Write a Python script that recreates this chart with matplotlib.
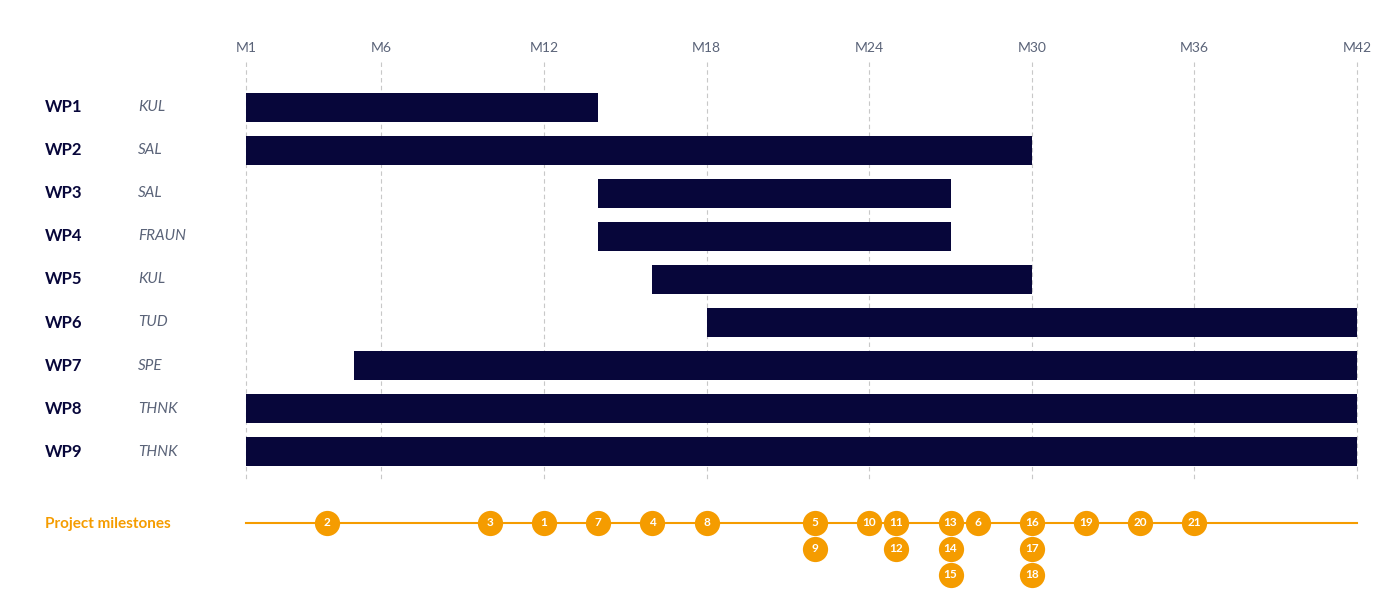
import matplotlib
matplotlib.use("Agg")
import matplotlib.pyplot as plt

wps = ["WP1","WP2","WP3","WP4","WP5","WP6","WP7","WP8","WP9"]
partners = ["KUL","SAL","SAL","FRAUN","KUL","TUD","SPE","THNK","THNK"]
starts = [1,1,14,14,16,18,5,1,1]
ends = [14,30,27,27,30,42,42,42,42]
tick_months = [1,6,12,18,24,30,36,42]
ms_ids = [2,3,1,7,4,8,5,9,10,11,12,13,14,15,6,16,17,18,19,20,21]
ms_months = [4,10,12,14,16,18,22,22,24,25,25,27,27,27,28,30,30,30,32,34,36]

NAVY = "#07063a"; ORANGE = "#f59c00"; GRAY = "#5a6378"
plt.rcParams['font.family'] = ['Lato', 'DejaVu Sans']
fig = plt.figure(figsize=(13.92, 6.05), dpi=100)
ax = fig.add_axes([0, 0, 1, 1])
ppm = (1357 - 246) / 41.0
ax.set_xlim(1 - 246 / ppm, 42 + (1392 - 1357) / ppm)
ax.set_ylim(605, 0)
ax.axis('off')

for m in tick_months:
    ax.plot([m, m], [62, 482], color="#c8c8c8", lw=0.8, ls=(0, (4, 3)), zorder=0)
    ax.text(m, 48, f"M{m}", ha='center', va='center', fontsize=10, color=GRAY)

for i, (w, p, s, e) in enumerate(zip(wps, partners, starts, ends)):
    y = 107 + i * 43.1
    ax.barh(y, e - s, left=s, height=29, color=NAVY, zorder=2)
    ax.text(45 / 1392 * 0 + (1 - 246 / ppm) + 45 / ppm, y, w, ha='left', va='center',
            fontsize=12, fontweight='bold', color=NAVY)
    ax.text((1 - 246 / ppm) + 138 / ppm, y, p, ha='left', va='center',
            fontsize=11, style='italic', color=GRAY)

ax.text((1 - 246 / ppm) + 45 / ppm, 524, "Project milestones", ha='left', va='center',
        fontsize=11, fontweight='bold', color=ORANGE)
ax.plot([1, 42], [523, 523], color=ORANGE, lw=1.5, zorder=1)
count = {}
for mid, m in zip(ms_ids, ms_months):
    k = count.get(m, 0); count[m] = k + 1
    y = 523 + k * 26
    ax.scatter([m], [y], s=330, color=ORANGE, zorder=3, linewidths=0)
    ax.text(m, y, str(mid), ha='center', va='center', fontsize=8.5, fontweight='bold',
            color='white', zorder=4)

fig.savefig("out.png", dpi=100, facecolor='white')
